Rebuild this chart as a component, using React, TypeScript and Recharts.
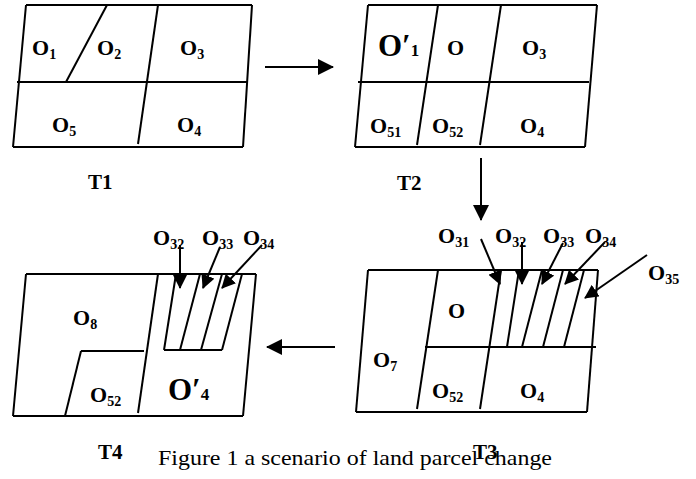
import React from "react";
import { ComposedChart, XAxis, YAxis, ReferenceLine, Scatter } from "recharts";

// segments are [x1, y1, x2, y2] in picture units
const t1Lines = [
  [26, 5, 252, 5],
  [252, 5, 243, 147],
  [13, 147, 243, 147],
  [26, 5, 13, 147],
  [17, 82, 247, 82],
  [107, 5, 66, 82],
  [158, 5, 138, 144],
];

const t2Lines = [
  [368, 5, 597, 5],
  [597, 5, 585, 147],
  [355, 147, 585, 147],
  [368, 5, 355, 147],
  [358, 82, 589, 82],
  [438, 5, 417, 145],
  [501, 5, 480, 145],
];

const t3Lines = [
  [368, 270, 598, 270],
  [598, 270, 587, 412],
  [356, 412, 587, 412],
  [368, 270, 356, 412],
  [425, 347, 596, 347],
  [438, 270, 417, 409],
  [501, 270, 480, 409],
  [519, 270, 507, 347],
  [542, 270, 522, 347],
  [563, 270, 543, 347],
  [584, 270, 564, 347],
];

const t4Lines = [
  [26, 274, 256, 274],
  [256, 274, 243, 416],
  [13, 416, 243, 416],
  [26, 274, 13, 416],
  [158, 274, 138, 413],
  [81, 351, 144, 351],
  [81, 351, 65, 416],
  [164, 350, 222, 350],
  [176, 274, 164, 350],
  [200, 274, 180, 350],
  [222, 274, 201, 350],
  [242, 274, 222, 350],
];

const stageArrows = [
  [265, 67, 333, 67],
  [481, 158, 481, 220],
  [335, 347, 267, 347],
];

const partArrows = [
  [481, 239, 500, 284],
  [522, 242, 522, 284],
  [563, 243, 542, 284],
  [605, 242, 565, 284],
  [647, 255, 585, 298],
  [180, 245, 180, 288],
  [220, 247, 203, 288],
  [262, 245, 222, 288],
];

// parcel names: x = left edge, y = baseline
const parcelLabels = [
  { x: 32, y: 55, main: "O", sub: "1" },
  { x: 97, y: 55, main: "O", sub: "2" },
  { x: 180, y: 55, main: "O", sub: "3" },
  { x: 52, y: 132, main: "O", sub: "5" },
  { x: 177, y: 132, main: "O", sub: "4" },
  { x: 378, y: 56, main: "O\u2032", sub: "1", big: true },
  { x: 447, y: 55, main: "O", sub: "" },
  { x: 522, y: 55, main: "O", sub: "3" },
  { x: 370, y: 133, main: "O", sub: "51" },
  { x: 432, y: 133, main: "O", sub: "52" },
  { x: 520, y: 133, main: "O", sub: "4" },
  { x: 438, y: 243, main: "O", sub: "31" },
  { x: 495, y: 243, main: "O", sub: "32" },
  { x: 543, y: 243, main: "O", sub: "33" },
  { x: 585, y: 243, main: "O", sub: "34" },
  { x: 648, y: 280, main: "O", sub: "35" },
  { x: 448, y: 318, main: "O", sub: "" },
  { x: 373, y: 367, main: "O", sub: "7" },
  { x: 432, y: 398, main: "O", sub: "52" },
  { x: 520, y: 398, main: "O", sub: "4" },
  { x: 153, y: 245, main: "O", sub: "32" },
  { x: 202, y: 245, main: "O", sub: "33" },
  { x: 243, y: 245, main: "O", sub: "34" },
  { x: 73, y: 325, main: "O", sub: "8" },
  { x: 90, y: 402, main: "O", sub: "52" },
  { x: 168, y: 400, main: "O\u2032", sub: "4", big: true },
];

const stageLabels = [
  { x: 88, y: 189, text: "T1" },
  { x: 397, y: 190, text: "T2" },
  { x: 98, y: 459, text: "T4" },
  { x: 473, y: 459, text: "T3" },
];

const captions = [{ x: 158, y: 465, text: "Figure 1 a scenario of land parcel change" }];

const FONT = '"Times New Roman", "Liberation Serif", Tinos, Times, serif';

function seg(s: number[], key: string, arrow?: string) {
  return (
    <ReferenceLine
      key={key}
      segment={[
        { x: s[0], y: s[1] },
        { x: s[2], y: s[3] },
      ]}
      stroke="#000"
      strokeWidth={2}
      ifOverflow="visible"
      markerEnd={arrow ? `url(#${arrow})` : undefined}
    />
  );
}

const ParcelShape = (props: any) => {
  const { cx, cy, payload } = props;
  const size = payload.big ? 31 : 22;
  return (
    <text x={cx} y={cy} style={{ fontFamily: FONT, fontWeight: 700, fontSize: size }} fill="#000">
      {payload.main}
      {payload.sub ? (
        <tspan style={{ fontSize: payload.big ? 17 : 14 }} dy={payload.big ? 0 : 4}>
          {payload.sub}
        </tspan>
      ) : null}
    </text>
  );
};

const StageShape = (props: any) => (
  <text x={props.cx} y={props.cy} style={{ fontFamily: FONT, fontWeight: 700, fontSize: 21 }} fill="#000">
    {props.payload.text}
  </text>
);

const CaptionShape = (props: any) => (
  <text
    x={props.cx}
    y={props.cy}
    style={{ fontFamily: FONT, fontSize: 21 }}
    fill="#000"
    textLength={394}
    lengthAdjust="spacingAndGlyphs"
  >
    {props.payload.text}
  </text>
);

export default function App() {
  return (
    <div style={{ position: "absolute", left: 0, top: 0, width: 696, height: 479, background: "#fff" }}>
      <ComposedChart width={696} height={479} margin={{ top: 0, right: 0, bottom: 0, left: 0 }}>
        <defs>
          <marker id="bigHead" markerUnits="userSpaceOnUse" markerWidth={16} markerHeight={16} refX={15} refY={8} orient="auto">
            <path d="M0,0 L16,8 L0,16 Z" fill="#000" />
          </marker>
          <marker id="smallHead" markerUnits="userSpaceOnUse" markerWidth={14} markerHeight={14} refX={13} refY={7} orient="auto">
            <path d="M0,0 L14,7 L0,14 Z" fill="#000" />
          </marker>
        </defs>
        <XAxis type="number" dataKey="x" domain={[0, 696]} hide allowDataOverflow />
        <YAxis type="number" dataKey="y" domain={[0, 479]} reversed hide allowDataOverflow />
        {t1Lines.map((s, i) => seg(s, `t1-${i}`))}
        {t2Lines.map((s, i) => seg(s, `t2-${i}`))}
        {t3Lines.map((s, i) => seg(s, `t3-${i}`))}
        {t4Lines.map((s, i) => seg(s, `t4-${i}`))}
        {stageArrows.map((s, i) => seg(s, `sa-${i}`, "bigHead"))}
        {partArrows.map((s, i) => seg(s, `pa-${i}`, "smallHead"))}
        <Scatter data={parcelLabels} shape={ParcelShape} isAnimationActive={false} />
        <Scatter data={stageLabels} shape={StageShape} isAnimationActive={false} />
        <Scatter data={captions} shape={CaptionShape} isAnimationActive={false} />
      </ComposedChart>
    </div>
  );
}
